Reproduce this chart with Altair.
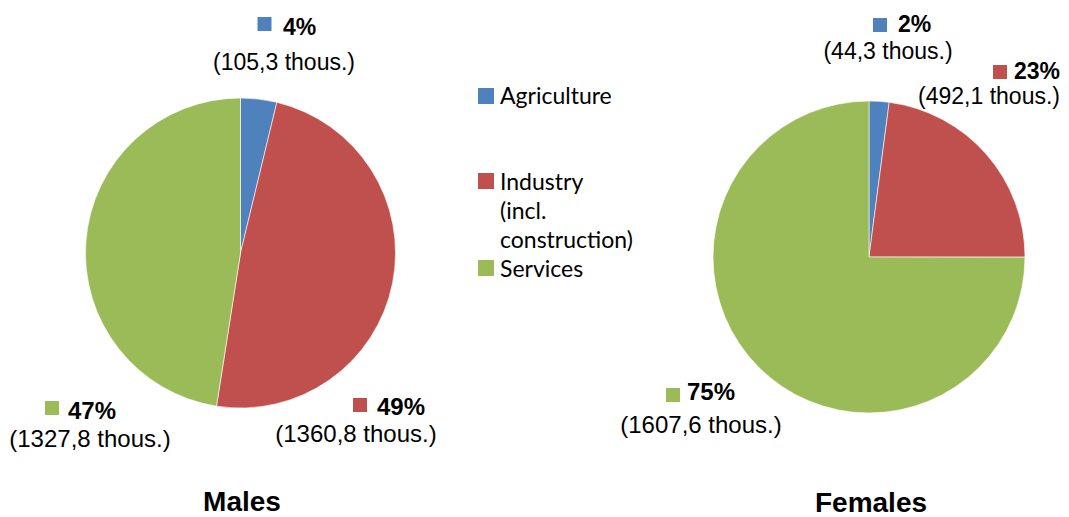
import altair as alt
import pandas as pd

# ---- data ----
categories = ["Agriculture", "Industry (incl. construction)", "Services"]
legend_lines = [["Agriculture"], ["Industry", "(incl.", "construction)"], ["Services"]]
colors = ["#4F81BD", "#C0504D", "#9BBB59"]
males_thous = [105.3, 1360.8, 1327.8]
females_thous = [44.3, 492.1, 1607.6]
males_pct = [4, 49, 47]
females_pct = [2, 23, 75]
titles = ["Males", "Females"]

W, H = 1053, 509
LABEL_FONT = "Liberation Sans"
LEGEND_FONT = "Lato"

color_scale = alt.Scale(domain=categories, range=colors)
col = alt.Color("category:N", scale=color_scale, legend=None)


def pie(vals, cx, cy, r):
    df = pd.DataFrame({"category": categories, "value": vals,
                       "order": list(range(len(categories)))})
    return alt.Chart(df).mark_arc(outerRadius=r, stroke="white", strokeWidth=0.6).encode(
        theta=alt.Theta("value:Q", stack=True),
        color=col,
        order=alt.Order("order:Q"),
        x=alt.value(cx), y=alt.value(cy),
    )


def fmt_thous(v):
    return "(" + f"{v:.1f}".replace(".", ",") + " thous.)"


def label(i, pct, thous, sq, pct_pos, val_pos, size=23):
    df = pd.DataFrame({"category": [categories[i]], "pct": [f"{pct}%"],
                       "val": [fmt_thous(thous)]})
    base = alt.Chart(df)
    s = base.mark_square(size=196, opacity=1).encode(
        color=col, x=alt.value(sq[0]), y=alt.value(sq[1]))
    p = base.mark_text(font=LABEL_FONT, fontSize=size, fontWeight="bold", align="left",
                       baseline="middle", color="black").encode(
        text="pct:N", x=alt.value(pct_pos[0]), y=alt.value(pct_pos[1]))
    v = base.mark_text(font=LABEL_FONT, fontSize=size, align="center",
                       baseline="middle", color="black").encode(
        text="val:N", x=alt.value(val_pos[0]), y=alt.value(val_pos[1]))
    return [s, p, v]


layers = [
    pie(males_thous, 232.5, 245, 155),
    pie(females_thous, 861, 249, 156),
]

# data labels
layers += label(0, males_pct[0], males_thous[0], (256.5, 16), (275, 20), (276, 55))
layers += label(1, males_pct[1], males_thous[1], (352, 397), (369, 400), (348, 427), 24)
layers += label(2, males_pct[2], males_thous[2], (44, 400), (60, 404), (82, 432), 24)
layers += label(0, females_pct[0], females_thous[0], (872, 17), (890, 17), (880, 44))
layers += label(1, females_pct[1], females_thous[1], (992, 64), (1006, 64), (981, 89))
layers += label(2, females_pct[2], females_thous[2], (665, 387), (679, 385), (693, 418), 24)

# legend (manual)
legend_sq_y = [88, 173, 260]
legend_txt_y = [89, 175, 262]
LEGEND_LINE = 29
for i, cat in enumerate(categories):
    d = pd.DataFrame({"category": [cat]})
    layers.append(alt.Chart(d).mark_square(size=256, opacity=1).encode(
        color=col, x=alt.value(478), y=alt.value(legend_sq_y[i])))
    for j, line in enumerate(legend_lines[i]):
        dl = pd.DataFrame({"t": [line]})
        layers.append(alt.Chart(dl).mark_text(
            font=LEGEND_FONT, fontSize=23, align="left", baseline="middle", color="black"
        ).encode(text="t:N", x=alt.value(492), y=alt.value(legend_txt_y[i] + j * LEGEND_LINE)))

# titles
title_pos = [(234, 503), (863, 504)]
for t, (tx, ty) in zip(titles, title_pos):
    dt = pd.DataFrame({"t": [t]})
    layers.append(alt.Chart(dt).mark_text(
        font=LABEL_FONT, fontSize=28, fontWeight="bold", align="center",
        baseline="alphabetic", color="black"
    ).encode(text="t:N", x=alt.value(tx), y=alt.value(ty)))

chart = alt.layer(*layers).resolve_scale(theta="independent").properties(
    width=W, height=H, padding=0,
    autosize=alt.AutoSizeParams(type="fit", contains="padding"),
    background="white",
).configure_view(stroke=None)

chart.save("out.html", embed_options={"renderer": "svg", "actions": False})
